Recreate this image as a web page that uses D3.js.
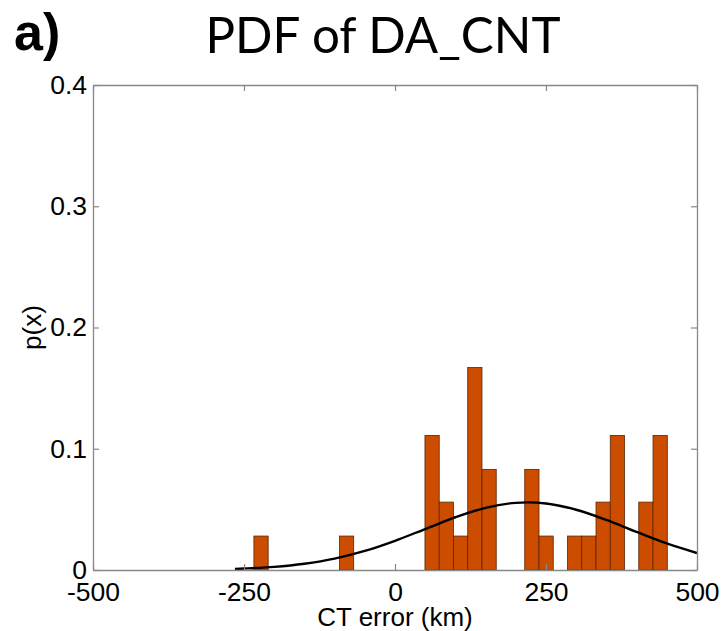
<!DOCTYPE html>
<html lang="en">
<head>
  <meta charset="UTF-8">
  <title>PDF of DA_CNT</title>
  <script src="https://d3js.org/d3.v7.min.js"></script>
  <style>
    body {
      margin: 0;
      background: #fff;
    }
    .tick text {
      font-family: "Liberation Sans", Arial, sans-serif;
      font-size: 26.5px;
      fill: #000;
    }
  </style>
</head>
<body>
  <svg width="724" height="631"></svg>

  <script>
    // histogram: first bin edge, bin width (km) and pdf per bin
    const binStart = -233.6;
    const binWidth = 23.6;
    const pdfValues = [
      0.028, 0, 0, 0, 0, 0,
      0.028, 0, 0, 0, 0, 0,
      0.111, 0.056, 0.028, 0.167, 0.083, 0, 0,
      0.083, 0.028, 0, 0.028, 0.028, 0.056, 0.111, 0,
      0.056, 0.111
    ];

    // fitted curve
    const curveX = [-265, -250, -200, -150, -100, -50, 0, 50, 100, 150, 200, 250, 300, 350, 400, 450, 500];
    const curveY = [0.0009, 0.0012, 0.0026, 0.0052, 0.0094, 0.0157, 0.0241, 0.0338, 0.0435, 0.0513, 0.0554, 0.0549, 0.0497, 0.0413, 0.0314, 0.0219, 0.014];

    const xTicks = [-500, -250, 0, 250, 500];
    const yTicks = [0, 0.1, 0.2, 0.3, 0.4];

    const box = { left: 93, right: 697, top: 85, bottom: 570 };
    const svg = d3.select("svg");

    const x = d3.scaleLinear().domain([-500, 500]).range([box.left, box.right]);
    const y = d3.scaleLinear().domain([0, 0.4]).range([box.bottom, box.top]);

    const bins = pdfValues.map((p, i) => ({
      x0: binStart + i * binWidth,
      x1: binStart + (i + 1) * binWidth,
      p: p
    })).filter(d => d.p > 0);

    // Bars
    svg.append("g")
      .selectAll("rect")
      .data(bins)
      .enter()
      .append("rect")
      .attr("x", d => x(d.x0))
      .attr("y", d => y(d.p))
      .attr("width", d => x(d.x1) - x(d.x0))
      .attr("height", d => y(0) - y(d.p))
      .attr("fill", "#cc4c00")
      .attr("stroke", "#5a2608")
      .attr("stroke-width", 0.8);

    // Fitted curve
    svg.append("defs").append("clipPath").attr("id", "plot")
      .append("rect")
      .attr("x", box.left).attr("y", box.top)
      .attr("width", box.right - box.left).attr("height", box.bottom - box.top);

    const line = d3.line()
      .x((d, i) => x(curveX[i]))
      .y(d => y(d))
      .curve(d3.curveCatmullRom);

    svg.append("path")
      .datum(curveY)
      .attr("clip-path", "url(#plot)")
      .attr("fill", "none")
      .attr("stroke", "#000")
      .attr("stroke-width", 2.4)
      .attr("d", line);

    // Axes (box with inward ticks)
    const styleAxis = g => {
      g.select(".domain").attr("stroke", "#888").attr("stroke-width", 1.3);
      g.selectAll(".tick line").attr("stroke", "#888").attr("stroke-width", 1.2);
    };

    svg.append("g")
      .attr("transform", `translate(0,${box.bottom})`)
      .call(d3.axisBottom(x).tickValues(xTicks).tickFormat(d => String(d))
        .tickSizeInner(-6).tickSizeOuter(0).tickPadding(12))
      .call(styleAxis);

    svg.append("g")
      .attr("transform", `translate(0,${box.top})`)
      .call(d3.axisTop(x).tickValues(xTicks).tickFormat("")
        .tickSizeInner(-6).tickSizeOuter(0))
      .call(styleAxis);

    svg.append("g")
      .attr("transform", `translate(${box.left},0)`)
      .call(d3.axisLeft(y).tickValues(yTicks).tickFormat(d => d === 0 ? "0" : d3.format(".1f")(d))
        .tickSizeInner(-6).tickSizeOuter(0).tickPadding(6))
      .call(styleAxis);

    svg.append("g")
      .attr("transform", `translate(${box.right},0)`)
      .call(d3.axisRight(y).tickValues(yTicks).tickFormat("")
        .tickSizeInner(-6).tickSizeOuter(0))
      .call(styleAxis);

    svg.selectAll("g").attr("font-size", null).attr("font-family", null);

    // Axis labels
    svg.append("text")
      .attr("x", (box.left + box.right) / 2)
      .attr("y", 626)
      .attr("text-anchor", "middle")
      .attr("font-family", "Liberation Sans, Arial, sans-serif")
      .attr("font-size", "26px")
      .text("CT error (km)");

    svg.append("text")
      .attr("transform", `translate(41,${(box.top + box.bottom) / 2}) rotate(-90)`)
      .attr("text-anchor", "middle")
      .attr("font-family", "Liberation Sans, Arial, sans-serif")
      .attr("font-size", "26px")
      .text("p(x)");

    // Title and panel letter
    svg.append("text")
      .attr("x", 383)
      .attr("y", 53)
      .attr("text-anchor", "middle")
      .attr("font-family", "Lato, 'Open Sans', sans-serif")
      .attr("font-size", "50px")
      .attr("textLength", 355)
      .attr("lengthAdjust", "spacingAndGlyphs")
      .text("PDF of DA_CNT");

    svg.append("text")
      .attr("x", 14)
      .attr("y", 50)
      .attr("font-family", "Liberation Sans, Arial, sans-serif")
      .attr("font-weight", "bold")
      .attr("font-size", "52px")
      .text("a)");
  </script>
</body>
</html>
